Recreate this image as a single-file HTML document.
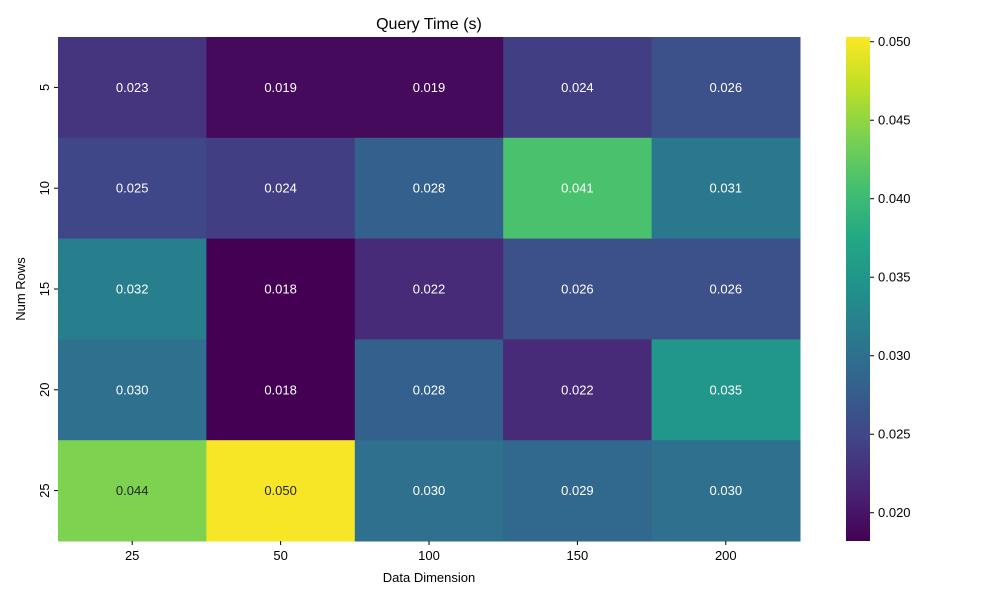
<!DOCTYPE html>
<html><head><meta charset="utf-8"><style>
body{margin:0;background:#fff;font-family:"Liberation Sans","DejaVu Sans",sans-serif;}
svg text{font-family:"Liberation Sans","DejaVu Sans",sans-serif;}
</style></head><body>
<svg id="chart" width="1000" height="600" xmlns="http://www.w3.org/2000/svg">
<defs><linearGradient id="vg" x1="0" y1="1" x2="0" y2="0"></linearGradient></defs>
<text x="429" y="29" font-size="16" text-anchor="middle">Query Time (s)</text>
<g id="cells"></g>
<g id="xaxis"></g>
<g id="yaxis"></g>
<text x="429" y="582" font-size="13" text-anchor="middle">Data Dimension</text>
<text x="0" y="0" font-size="13" text-anchor="middle" transform="translate(25,289) rotate(-90)">Num Rows</text>
<rect x="846" y="37" width="24" height="504" fill="url(#vg)"/>
<g id="cbar"></g>
</svg>
<script>
const xLabels=["25","50","100","150","200"];
const yLabels=["5","10","15","20","25"];
const row5=[0.023,0.019,0.019,0.024,0.026];
const row10=[0.025,0.024,0.028,0.041,0.031];
const row15=[0.032,0.018,0.022,0.026,0.026];
const row20=[0.030,0.018,0.028,0.022,0.035];
const row25=[0.044,0.050,0.030,0.029,0.030];
const cbarTicks=[0.020,0.025,0.030,0.035,0.040,0.045,0.050];
const vmin=0.0182, vmax=0.0503;
const values=[row5,row10,row15,row20,row25];
const stops=["#440154","#482475","#414487","#355f8d","#2a788e","#21918c","#22a884","#44bf70","#7ad151","#bddf26","#fde725"];
const NS="http://www.w3.org/2000/svg";
const L=58,R=800,T=37,B=541;
const cw=(R-L)/xLabels.length, ch=(B-T)/yLabels.length;
function hex(h){return [1,3,5].map(i=>parseInt(h.substr(i,2),16));}
function cmap(v){let t=Math.max(0,Math.min(1,(v-vmin)/(vmax-vmin)))*10;let i=Math.min(9,Math.floor(t));let f=t-i;let a=hex(stops[i]),b=hex(stops[i+1]);return "rgb("+a.map((c,k)=>Math.round(c+(b[k]-c)*f)).join(",")+")";}
function lum(v){let t=(v-vmin)/(vmax-vmin);return t>0.75;}
function el(tag,attrs,parent){const e=document.createElementNS(NS,tag);for(const k in attrs)e.setAttribute(k,attrs[k]);parent.appendChild(e);return e;}
const g=document.getElementById('vg');
stops.forEach((s,i)=>{el('stop',{offset:(i*10)+'%','stop-color':s},g);});
const cells=document.getElementById('cells');
values.forEach((row,r)=>row.forEach((v,c)=>{
 const rect=el('rect',{x:L+c*cw,y:T+r*ch,width:cw+0.5,height:ch+0.5,fill:cmap(v)},cells);
 
 
 const t=el('text',{x:L+(c+0.5)*cw,y:T+(r+0.5)*ch+4.5,'font-size':13,'text-anchor':'middle',fill:lum(v)?'#262626':'#fff'},cells);
 
 
 t.textContent=v.toFixed(3);
}));
const xa=document.getElementById('xaxis');
xLabels.forEach((s,i)=>{const x=L+(i+0.5)*cw;
 const ln=el('line',{x1:x,x2:x,y1:B,y2:B+4,stroke:'#000'},xa);
 
 const t=el('text',{x:x,y:B+19,'font-size':13,'text-anchor':'middle'},xa);
 t.textContent=s;});
const ya=document.getElementById('yaxis');
yLabels.forEach((s,i)=>{const y=T+(i+0.5)*ch;
 const ln=el('line',{x1:L-4,x2:L,y1:y,y2:y,stroke:'#000'},ya);
 
 const t=el('text',{x:0,y:0,'font-size':13,'text-anchor':'middle',transform:'translate('+(L-9)+','+y+') rotate(-90)'},ya);
 t.textContent=s;});
const cb=document.getElementById('cbar');
cbarTicks.forEach(v=>{const y=B-(v-vmin)/(vmax-vmin)*(B-T);
 const ln=el('line',{x1:870,x2:874,y1:y,y2:y,stroke:'#000'},cb);
 
 const t=el('text',{x:878,y:y+4.5,'font-size':13},cb);
 t.textContent=v.toFixed(3);});
</script>
</body></html>
